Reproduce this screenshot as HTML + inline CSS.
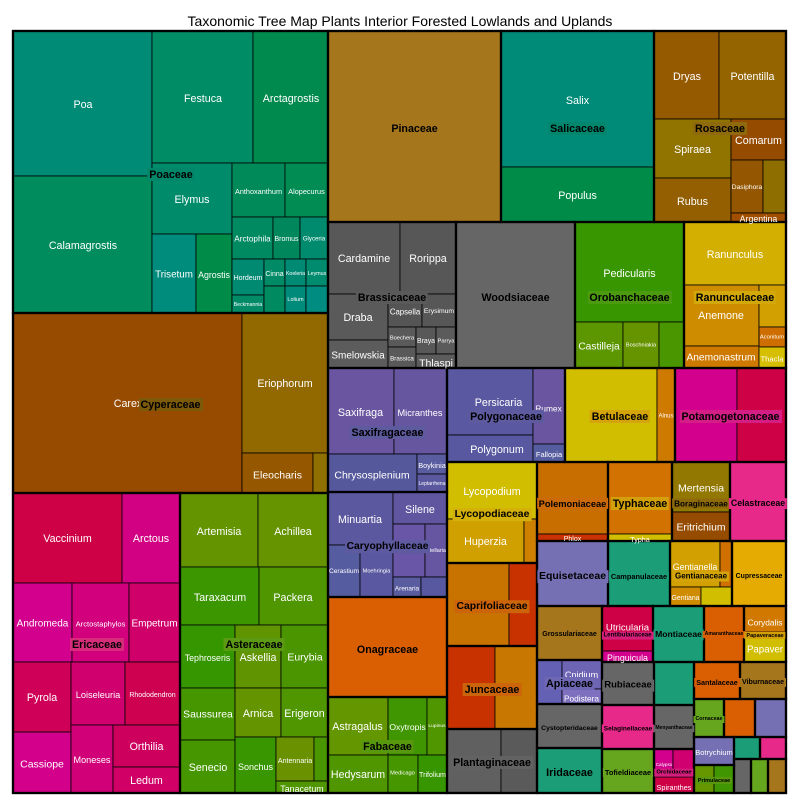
<!DOCTYPE html>
<html><head><meta charset="utf-8"><style>
html,body{margin:0;padding:0;background:#fff;width:800px;height:800px;overflow:hidden}
#c{position:relative;width:800px;height:800px;font-family:"Liberation Sans",Arial,sans-serif}
svg{position:absolute;left:0;top:0}
.g{stroke:#000;stroke-width:1;stroke-opacity:.8}
.o{fill:none;stroke:#000;stroke-width:2.2}
.w,.f{position:absolute;transform:translate(-50%,calc(-50% + 1.5px));white-space:nowrap;line-height:1}
.w{color:#fff;font-size:10.7px}
.f{color:#000;font-weight:bold;font-size:10.7px;line-height:1.12;padding:1px 2px 0}
.t{position:absolute;left:0;top:13.6px;width:800px;text-align:center;font-size:14px;line-height:1;color:#000}
</style></head><body><div id="c">
<div class="t">Taxonomic Tree Map Plants Interior Forested Lowlands and Uplands</div>
<svg width="800" height="800" viewBox="0 0 800 800">
<g class="g">
<rect x="13" y="31" width="139" height="145" fill="#008B76"/>
<rect x="13" y="176" width="139" height="137" fill="#008C5C"/>
<rect x="152" y="31" width="101" height="132" fill="#008C64"/>
<rect x="253" y="31" width="75" height="132" fill="#008A4E"/>
<rect x="152" y="163" width="80" height="71" fill="#008C6A"/>
<rect x="152" y="234" width="44" height="79" fill="#008C7C"/>
<rect x="196" y="234" width="36" height="79" fill="#008C48"/>
<rect x="232" y="163" width="53" height="54" fill="#008A5A"/>
<rect x="285" y="163" width="43" height="54" fill="#008C52"/>
<rect x="232" y="217" width="41" height="42" fill="#008A62"/>
<rect x="273" y="217" width="27" height="42" fill="#00875C"/>
<rect x="300" y="217" width="28" height="42" fill="#008A6E"/>
<rect x="232" y="259" width="32" height="36" fill="#008A72"/>
<rect x="232" y="295" width="32" height="18" fill="#008A66"/>
<rect x="264" y="259" width="21" height="27" fill="#008A66"/>
<rect x="285" y="259" width="21" height="27" fill="#008A74"/>
<rect x="306" y="259" width="22" height="27" fill="#008A6E"/>
<rect x="264" y="286" width="21" height="27" fill="#008A60"/>
<rect x="285" y="286" width="21" height="27" fill="#008A7A"/>
<rect x="306" y="286" width="22" height="27" fill="#008C80"/>

<rect x="13" y="313" width="229" height="180" fill="#964B00"/>
<rect x="242" y="313" width="86" height="140" fill="#926800"/>
<rect x="242" y="453" width="71" height="40" fill="#955800"/>
<rect x="313" y="453" width="15" height="40" fill="#8F7000"/>

<rect x="13" y="493" width="109" height="90" fill="#CE0046"/>
<rect x="122" y="493" width="58" height="90" fill="#D20082"/>
<rect x="13" y="583" width="59" height="79" fill="#D2008C"/>
<rect x="72" y="583" width="57" height="79" fill="#D2007C"/>
<rect x="129" y="583" width="51" height="79" fill="#D0006A"/>
<rect x="13" y="662" width="58" height="70" fill="#CE0058"/>
<rect x="13" y="732" width="58" height="61" fill="#D2008A"/>
<rect x="71" y="662" width="54" height="63" fill="#D0006E"/>
<rect x="125" y="662" width="55" height="63" fill="#CE0050"/>
<rect x="71" y="725" width="42" height="68" fill="#D20078"/>
<rect x="113" y="725" width="67" height="42" fill="#CE005E"/>
<rect x="113" y="767" width="67" height="26" fill="#D00066"/>

<rect x="180" y="493" width="78" height="74" fill="#649400"/>
<rect x="258" y="493" width="70" height="74" fill="#669400"/>
<rect x="180" y="567" width="79" height="58" fill="#3C9600"/>
<rect x="259" y="567" width="69" height="58" fill="#509600"/>
<rect x="180" y="625" width="55" height="63" fill="#359600"/>
<rect x="235" y="625" width="46" height="63" fill="#609400"/>
<rect x="281" y="625" width="47" height="63" fill="#4B9600"/>
<rect x="180" y="688" width="55" height="52" fill="#469600"/>
<rect x="180" y="740" width="55" height="53" fill="#469600"/>
<rect x="235" y="688" width="46" height="49" fill="#649400"/>
<rect x="281" y="688" width="47" height="49" fill="#509600"/>
<rect x="235" y="737" width="41" height="56" fill="#3A9600"/>
<rect x="276" y="737" width="38" height="44" fill="#6A9200"/>
<rect x="314" y="737" width="14" height="44" fill="#4A9600"/>
<rect x="276" y="781" width="52" height="12" fill="#509600"/>

<rect x="328" y="31" width="173" height="191" fill="#A6761D"/>
<rect x="501" y="31" width="153" height="136" fill="#008A78"/>
<rect x="501" y="167" width="153" height="55" fill="#008C48"/>

<rect x="654" y="31" width="65" height="88" fill="#955A00"/>
<rect x="719" y="31" width="67" height="88" fill="#936400"/>
<rect x="654" y="119" width="77" height="59" fill="#917400"/>
<rect x="654" y="178" width="77" height="44" fill="#935F00"/>
<rect x="731" y="119" width="55" height="41" fill="#964C00"/>
<rect x="731" y="160" width="32" height="53" fill="#945600"/>
<rect x="763" y="160" width="23" height="53" fill="#8F6E00"/>
<rect x="731" y="213" width="55" height="9" fill="#A04E00"/>

<rect x="328" y="222" width="72" height="72" fill="#585858"/>
<rect x="400" y="222" width="56" height="72" fill="#575757"/>
<rect x="328" y="294" width="60" height="46" fill="#5A5A5A"/>
<rect x="328" y="340" width="60" height="28" fill="#5C5C5C"/>
<rect x="388" y="294" width="34" height="33" fill="#555555"/>
<rect x="422" y="294" width="34" height="33" fill="#575757"/>
<rect x="388" y="327" width="28" height="20" fill="#5A5A5A"/>
<rect x="388" y="347" width="28" height="21" fill="#595959"/>
<rect x="416" y="327" width="20" height="27" fill="#585858"/>
<rect x="436" y="327" width="20" height="27" fill="#5B5B5B"/>
<rect x="416" y="354" width="40" height="14" fill="#5C5C5C"/>

<rect x="456" y="222" width="119" height="146" fill="#666666"/>

<rect x="575" y="222" width="109" height="100" fill="#389600"/>
<rect x="575" y="322" width="48" height="46" fill="#5C9600"/>
<rect x="623" y="322" width="36" height="46" fill="#669400"/>
<rect x="659" y="322" width="25" height="46" fill="#4A9600"/>

<rect x="684" y="222" width="102" height="63" fill="#D2AF00"/>
<rect x="684" y="285" width="75" height="61" fill="#CE8C00"/>
<rect x="759" y="285" width="27" height="42" fill="#D2A000"/>
<rect x="759" y="327" width="27" height="20" fill="#CE6E00"/>
<rect x="684" y="346" width="75" height="22" fill="#CE7A00"/>
<rect x="759" y="347" width="27" height="21" fill="#D6BE00"/>

<rect x="328" y="368" width="66" height="86" fill="#6A56A0"/>
<rect x="394" y="368" width="53" height="86" fill="#6656A0"/>
<rect x="328" y="454" width="89" height="38" fill="#56589C"/>
<rect x="417" y="454" width="30" height="20" fill="#5A5CA0"/>
<rect x="417" y="474" width="30" height="18" fill="#5C58A0"/>

<rect x="328" y="492" width="65" height="53" fill="#5C58A0"/>
<rect x="393" y="492" width="54" height="32" fill="#6056A0"/>
<rect x="328" y="545" width="32" height="52" fill="#565CA0"/>
<rect x="360" y="545" width="33" height="52" fill="#5A58A0"/>
<rect x="393" y="524" width="32" height="53" fill="#6A56A6"/>
<rect x="425" y="524" width="22" height="53" fill="#6656A2"/>
<rect x="393" y="577" width="28" height="20" fill="#5A5CA0"/>
<rect x="421" y="577" width="26" height="20" fill="#5858A0"/>

<rect x="328" y="597" width="119" height="100" fill="#D95F02"/>

<rect x="328" y="697" width="60" height="58" fill="#649600"/>
<rect x="388" y="697" width="39" height="58" fill="#409600"/>
<rect x="427" y="697" width="20" height="58" fill="#509600"/>
<rect x="328" y="755" width="60" height="38" fill="#509600"/>
<rect x="388" y="755" width="30" height="38" fill="#469600"/>
<rect x="418" y="755" width="29" height="38" fill="#379600"/>

<rect x="447" y="368" width="86" height="67" fill="#5A58A0"/>
<rect x="447" y="435" width="86" height="27" fill="#5858A0"/>
<rect x="533" y="368" width="32" height="76" fill="#6A56A0"/>
<rect x="533" y="444" width="32" height="18" fill="#565CA0"/>

<rect x="447" y="462" width="90" height="57" fill="#D2BE00"/>
<rect x="447" y="519" width="77" height="44" fill="#D0A000"/>
<rect x="524" y="519" width="13" height="44" fill="#CE8000"/>

<rect x="447" y="563" width="62" height="83" fill="#C87200"/>
<rect x="509" y="563" width="28" height="83" fill="#C83200"/>
<rect x="447" y="646" width="48" height="83" fill="#C83200"/>
<rect x="495" y="646" width="42" height="83" fill="#C87800"/>
<rect x="447" y="729" width="54" height="64" fill="#606060"/>
<rect x="501" y="729" width="36" height="64" fill="#5A5A5A"/>

<rect x="565" y="368" width="92" height="94" fill="#D2BE00"/>
<rect x="657" y="368" width="18" height="94" fill="#CE7A00"/>
<rect x="675" y="368" width="62" height="94" fill="#D2008C"/>
<rect x="737" y="368" width="49" height="94" fill="#CE0046"/>

<rect x="537" y="462" width="71" height="72" fill="#C86E00"/>
<rect x="537" y="534" width="71" height="7" fill="#C83200"/>
<rect x="608" y="462" width="64" height="72" fill="#D27200"/>
<rect x="608" y="534" width="64" height="7" fill="#D2BE00"/>
<rect x="672" y="462" width="58" height="50" fill="#927800"/>
<rect x="672" y="512" width="58" height="29" fill="#964C00"/>
<rect x="730" y="462" width="56" height="79" fill="#E7298A"/>

<rect x="537" y="541" width="71" height="65" fill="#7570B3"/>
<rect x="608" y="541" width="62" height="65" fill="#1B9E77"/>
<rect x="670" y="541" width="50" height="46" fill="#D2A000"/>
<rect x="720" y="541" width="12" height="46" fill="#D07000"/>
<rect x="670" y="587" width="31" height="19" fill="#D08C00"/>
<rect x="701" y="587" width="31" height="19" fill="#D2BE00"/>
<rect x="732" y="541" width="54" height="65" fill="#E6AB02"/>

<rect x="537" y="606" width="65" height="54" fill="#A6761D"/>
<rect x="602" y="606" width="51" height="45" fill="#CE0046"/>
<rect x="602" y="651" width="51" height="11" fill="#D2008C"/>
<rect x="653" y="606" width="51" height="56" fill="#1B9E77"/>
<rect x="704" y="606" width="40" height="56" fill="#D95F02"/>
<rect x="744" y="606" width="42" height="26" fill="#D07800"/>
<rect x="744" y="632" width="42" height="30" fill="#D2BE00"/>

<rect x="537" y="660" width="25" height="44" fill="#6460B4"/>
<rect x="562" y="660" width="40" height="29" fill="#6E64B4"/>
<rect x="562" y="689" width="40" height="15" fill="#7E70BE"/>
<rect x="602" y="662" width="52" height="43" fill="#666666"/>
<rect x="654" y="662" width="40" height="43" fill="#1B9E77"/>
<rect x="694" y="662" width="46" height="37" fill="#D95F02"/>
<rect x="740" y="662" width="46" height="37" fill="#A6761D"/>
<rect x="537" y="704" width="65" height="44" fill="#666666"/>
<rect x="602" y="705" width="52" height="44" fill="#E7298A"/>
<rect x="654" y="705" width="40" height="44" fill="#666666"/>
<rect x="694" y="699" width="30" height="38" fill="#66A61E"/>
<rect x="724" y="699" width="31" height="38" fill="#D95F02"/>
<rect x="755" y="699" width="31" height="38" fill="#7570B3"/>
<rect x="694" y="737" width="40" height="28" fill="#7570B3"/>
<rect x="734" y="737" width="26" height="22" fill="#1B9E77"/>
<rect x="760" y="737" width="26" height="22" fill="#E7298A"/>
<rect x="694" y="765" width="20" height="28" fill="#669600"/>
<rect x="714" y="765" width="20" height="28" fill="#409600"/>
<rect x="734" y="759" width="17" height="34" fill="#666666"/>
<rect x="751" y="759" width="17" height="34" fill="#66A61E"/>
<rect x="768" y="759" width="18" height="34" fill="#A6761D"/>
<rect x="537" y="748" width="65" height="45" fill="#1B9E77"/>
<rect x="602" y="749" width="52" height="44" fill="#66A61E"/>
<rect x="654" y="749" width="19" height="28" fill="#D2008C"/>
<rect x="673" y="749" width="21" height="28" fill="#D00070"/>
<rect x="654" y="777" width="40" height="16" fill="#CE0046"/>
</g>
<g class="o">
<rect x="13" y="31" width="315" height="282"/>
<rect x="13" y="313" width="315" height="180"/>
<rect x="13" y="493" width="167" height="300"/>
<rect x="180" y="493" width="148" height="300"/>
<rect x="328" y="31" width="173" height="191"/>
<rect x="501" y="31" width="153" height="191"/>
<rect x="654" y="31" width="132" height="191"/>
<rect x="328" y="222" width="128" height="146"/>
<rect x="456" y="222" width="119" height="146"/>
<rect x="575" y="222" width="109" height="146"/>
<rect x="684" y="222" width="102" height="146"/>
<rect x="328" y="368" width="119" height="124"/>
<rect x="328" y="492" width="119" height="105"/>
<rect x="328" y="597" width="119" height="100"/>
<rect x="328" y="697" width="119" height="96"/>
<rect x="447" y="368" width="118" height="94"/>
<rect x="447" y="462" width="90" height="101"/>
<rect x="447" y="563" width="90" height="83"/>
<rect x="447" y="646" width="90" height="83"/>
<rect x="447" y="729" width="90" height="64"/>
<rect x="565" y="368" width="110" height="94"/>
<rect x="675" y="368" width="111" height="94"/>
<rect x="537" y="462" width="71" height="79"/>
<rect x="608" y="462" width="64" height="79"/>
<rect x="672" y="462" width="58" height="79"/>
<rect x="730" y="462" width="56" height="79"/>
<rect x="537" y="541" width="71" height="65"/>
<rect x="608" y="541" width="62" height="65"/>
<rect x="670" y="541" width="62" height="65"/>
<rect x="732" y="541" width="54" height="65"/>
<rect x="537" y="606" width="65" height="54"/>
<rect x="602" y="606" width="51" height="56"/>
<rect x="653" y="606" width="51" height="56"/>
<rect x="704" y="606" width="40" height="56"/>
<rect x="744" y="606" width="42" height="56"/>
<rect x="537" y="660" width="65" height="44"/>
<rect x="602" y="662" width="52" height="43"/>
<rect x="654" y="662" width="40" height="43"/>
<rect x="694" y="662" width="46" height="37"/>
<rect x="740" y="662" width="46" height="37"/>
<rect x="537" y="704" width="65" height="44"/>
<rect x="602" y="705" width="52" height="44"/>
<rect x="654" y="705" width="40" height="44"/>
<rect x="694" y="699" width="30" height="38"/>
<rect x="724" y="699" width="31" height="38"/>
<rect x="755" y="699" width="31" height="38"/>
<rect x="694" y="737" width="40" height="28"/>
<rect x="734" y="737" width="26" height="22"/>
<rect x="760" y="737" width="26" height="22"/>
<rect x="694" y="765" width="40" height="28"/>
<rect x="734" y="759" width="17" height="34"/>
<rect x="751" y="759" width="17" height="34"/>
<rect x="768" y="759" width="18" height="34"/>
<rect x="537" y="748" width="65" height="45"/>
<rect x="602" y="749" width="52" height="44"/>
<rect x="654" y="749" width="40" height="44"/>
<rect x="13" y="31" width="773" height="762"/>
</g>
</svg>

<div class="w" style="left:83px;top:104px">Poa</div>
<div class="w" style="left:83px;top:245px">Calamagrostis</div>
<div class="w" style="left:203px;top:98px">Festuca</div>
<div class="w" style="left:291px;top:98px">Arctagrostis</div>
<div class="w" style="left:192px;top:199px">Elymus</div>
<div class="w" style="left:174px;top:274px;font-size:9.8px">Trisetum</div>
<div class="w" style="left:214px;top:274px;font-size:8.8px">Agrostis</div>
<div class="w" style="left:258.5px;top:190px;font-size:7.3px">Anthoxanthum</div>
<div class="w" style="left:306.5px;top:190px;font-size:7.3px">Alopecurus</div>
<div class="w" style="left:252.5px;top:238px;font-size:8.2px">Arctophila</div>
<div class="w" style="left:286.5px;top:238px;font-size:7px">Bromus</div>
<div class="w" style="left:314px;top:238px;font-size:6.1px">Glyceria</div>
<div class="w" style="left:248px;top:277px;font-size:7px">Hordeum</div>
<div class="w" style="left:248px;top:304px;font-size:5.2px">Beckmannia</div>
<div class="w" style="left:274.5px;top:273px;font-size:7px">Cinna</div>
<div class="w" style="left:295.5px;top:273px;font-size:5.2px">Koeleria</div>
<div class="w" style="left:317px;top:273px;font-size:5.3px">Leymus</div>
<div class="w" style="left:295.5px;top:299px;font-size:5.5px">Lolium</div>
<div class="w" style="left:128px;top:403px">Carex</div>
<div class="w" style="left:285px;top:383px">Eriophorum</div>
<div class="w" style="left:277.5px;top:474px;font-size:10.5px">Eleocharis</div>
<div class="w" style="left:67.5px;top:538px">Vaccinium</div>
<div class="w" style="left:151px;top:538px">Arctous</div>
<div class="w" style="left:42.5px;top:623px;font-size:10px">Andromeda</div>
<div class="w" style="left:100.5px;top:623px;font-size:7.6px">Arctostaphylos</div>
<div class="w" style="left:154.5px;top:623px;font-size:10px">Empetrum</div>
<div class="w" style="left:42px;top:697px">Pyrola</div>
<div class="w" style="left:98px;top:694px;font-size:9.2px">Loiseleuria</div>
<div class="w" style="left:152.5px;top:694px;font-size:7px">Rhododendron</div>
<div class="w" style="left:42px;top:763px;font-size:10.5px">Cassiope</div>
<div class="w" style="left:92px;top:759px;font-size:9.1px">Moneses</div>
<div class="w" style="left:146.5px;top:746px">Orthilia</div>
<div class="w" style="left:146.5px;top:780px">Ledum</div>
<div class="w" style="left:219px;top:531px">Artemisia</div>
<div class="w" style="left:293px;top:531px">Achillea</div>
<div class="w" style="left:220px;top:597px">Taraxacum</div>
<div class="w" style="left:293px;top:597px">Packera</div>
<div class="w" style="left:207.5px;top:657px;font-size:8.8px">Tephroseris</div>
<div class="w" style="left:258px;top:657px">Askellia</div>
<div class="w" style="left:305px;top:657px;font-size:10.4px">Eurybia</div>
<div class="w" style="left:208px;top:714px;font-size:10.4px">Saussurea</div>
<div class="w" style="left:258px;top:713px">Arnica</div>
<div class="w" style="left:304.5px;top:713px">Erigeron</div>
<div class="w" style="left:208px;top:767px">Senecio</div>
<div class="w" style="left:255.5px;top:766px;font-size:9px">Sonchus</div>
<div class="w" style="left:295px;top:760px;font-size:7.1px">Antennaria</div>
<div class="w" style="left:302px;top:788px;font-size:8.9px">Tanacetum</div>
<div class="w" style="left:577.5px;top:100px">Salix</div>
<div class="w" style="left:577.5px;top:195px">Populus</div>
<div class="w" style="left:687px;top:76px">Dryas</div>
<div class="w" style="left:752.5px;top:76px">Potentilla</div>
<div class="w" style="left:692.5px;top:149px">Spiraea</div>
<div class="w" style="left:692.5px;top:201px">Rubus</div>
<div class="w" style="left:758.5px;top:140px">Comarum</div>
<div class="w" style="left:747px;top:187px;font-size:6.7px">Dasiphora</div>
<div class="w" style="left:758.5px;top:218px;font-size:8.8px">Argentina</div>
<div class="w" style="left:364px;top:258px">Cardamine</div>
<div class="w" style="left:428px;top:258px">Rorippa</div>
<div class="w" style="left:358px;top:317px">Draba</div>
<div class="w" style="left:405px;top:311px;font-size:7.8px">Capsella</div>
<div class="w" style="left:439px;top:311px;font-size:6.8px">Erysimum</div>
<div class="w" style="left:358px;top:355px;font-size:10px">Smelowskia</div>
<div class="w" style="left:402px;top:338px;font-size:5.7px">Boechera</div>
<div class="w" style="left:402px;top:358px;font-size:6.2px">Brassica</div>
<div class="w" style="left:426px;top:341px;font-size:6.9px">Braya</div>
<div class="w" style="left:446px;top:341px;font-size:5.8px">Parrya</div>
<div class="w" style="left:436px;top:362px;font-size:10.5px">Thlaspi</div>
<div class="w" style="left:629.5px;top:273px">Pedicularis</div>
<div class="w" style="left:599px;top:346px;font-size:10.2px">Castilleja</div>
<div class="w" style="left:641px;top:345px;font-size:5.6px">Boschniakia</div>
<div class="w" style="left:735px;top:254px">Ranunculus</div>
<div class="w" style="left:721px;top:315px">Anemone</div>
<div class="w" style="left:772px;top:337px;font-size:5.8px">Aconitum</div>
<div class="w" style="left:721px;top:357px;font-size:10.2px">Anemonastrum</div>
<div class="w" style="left:772px;top:358px;font-size:7.7px">Thacla</div>
<div class="w" style="left:360.5px;top:412px">Saxifraga</div>
<div class="w" style="left:420px;top:412px;font-size:9.2px">Micranthes</div>
<div class="w" style="left:372px;top:474px;font-size:10.5px">Chrysosplenium</div>
<div class="w" style="left:432px;top:464px;font-size:7.3px">Boykinia</div>
<div class="w" style="left:432px;top:483px;font-size:5px">Leptarrhena</div>
<div class="w" style="left:498.5px;top:402px">Persicaria</div>
<div class="w" style="left:548.5px;top:407px;font-size:8.4px">Rumex</div>
<div class="w" style="left:497px;top:449px">Polygonum</div>
<div class="w" style="left:549px;top:453px;font-size:7.5px">Fallopia</div>
<div class="w" style="left:360px;top:519px">Minuartia</div>
<div class="w" style="left:420px;top:509px">Silene</div>
<div class="w" style="left:344px;top:571px;font-size:6.6px">Cerastium</div>
<div class="w" style="left:376.5px;top:571px;font-size:5.6px">Moehringia</div>
<div class="w" style="left:436px;top:550px;font-size:5.5px">Stellaria</div>
<div class="w" style="left:407px;top:588px;font-size:6.4px">Arenaria</div>
<div class="w" style="left:492px;top:491px">Lycopodium</div>
<div class="w" style="left:485.5px;top:541px">Huperzia</div>
<div class="w" style="left:357.5px;top:726px">Astragalus</div>
<div class="w" style="left:407.5px;top:726px;font-size:8.6px">Oxytropis</div>
<div class="w" style="left:437px;top:726px;font-size:4.9px">Lupinus</div>
<div class="w" style="left:358px;top:774px;font-size:10.6px">Hedysarum</div>
<div class="w" style="left:402.5px;top:773px;font-size:5.7px">Medicago</div>
<div class="w" style="left:432.5px;top:774px;font-size:7.1px">Trifolium</div>
<div class="w" style="left:666px;top:415px;font-size:6px">Alnus</div>
<div class="w" style="left:572.5px;top:538px;font-size:7px">Phlox</div>
<div class="w" style="left:640px;top:538px;font-size:7.2px">Typha</div>
<div class="w" style="left:701px;top:487px;font-size:10.5px">Mertensia</div>
<div class="w" style="left:701px;top:527px;font-size:10.4px">Eritrichium</div>
<div class="w" style="left:695px;top:566px;font-size:8.8px">Gentianella</div>
<div class="w" style="left:685.5px;top:598px;font-size:6.9px">Gentiana</div>
<div class="w" style="left:627.5px;top:627px;font-size:9.6px">Utricularia</div>
<div class="w" style="left:627.5px;top:657px;font-size:8.9px">Pinguicula</div>
<div class="w" style="left:765px;top:621px;font-size:8.4px">Corydalis</div>
<div class="w" style="left:765px;top:649px;font-size:9.7px">Papaver</div>
<div class="w" style="left:581.5px;top:674px;font-size:9.1px">Cnidium</div>
<div class="w" style="left:581.5px;top:697px;font-size:8.3px">Podistera</div>
<div class="w" style="left:714px;top:751px;font-size:7.5px">Botrychium</div>
<div class="w" style="left:664px;top:764px;font-size:4.6px">Calypso</div>
<div class="w" style="left:674px;top:786px;font-size:7.3px">Spiranthes</div>

<div class="f" style="left:171px;top:173px;background:#00876A">Poaceae</div>
<div class="f" style="left:170.5px;top:403px;background:#7D5A0A">Cyperaceae</div>
<div class="f" style="left:97px;top:643px;background:#D62C7A">Ericaceae</div>
<div class="f" style="left:254px;top:643px;background:#5C9A14">Asteraceae</div>
<div class="f" style="left:414.5px;top:127px;background:#A6761D">Pinaceae</div>
<div class="f" style="left:577.5px;top:127px;background:#00866C">Salicaceae</div>
<div class="f" style="left:720px;top:127px;background:#8E6A0C">Rosaceae</div>
<div class="f" style="left:392px;top:296px;background:#5A5A5A">Brassicaceae</div>
<div class="f" style="left:515.5px;top:296px;background:#666666">Woodsiaceae</div>
<div class="f" style="left:629.5px;top:296px;background:#4C9A10">Orobanchaceae</div>
<div class="f" style="left:735px;top:296px;background:#D2A80A">Ranunculaceae</div>
<div class="f" style="left:387.5px;top:431px;background:#5E5A9E">Saxifragaceae</div>
<div class="f" style="left:506px;top:415px;background:#5E5AA0">Polygonaceae</div>
<div class="f" style="left:620px;top:415px;background:#D4A40A">Betulaceae</div>
<div class="f" style="left:730.5px;top:415px;background:#D41E86">Potamogetonaceae</div>
<div class="f" style="left:387.5px;top:545px;font-size:10.3px;background:#5E5AA0">Caryophyllaceae</div>
<div class="f" style="left:492px;top:513px;font-size:10.4px;background:#D4B00A">Lycopodiaceae</div>
<div class="f" style="left:572.5px;top:502px;font-size:9.3px;background:#CC6A0A">Polemoniaceae</div>
<div class="f" style="left:640px;top:502px;background:#D4A00A">Typhaceae</div>
<div class="f" style="left:701px;top:502px;font-size:8.2px;background:#8E6A0A">Boraginaceae</div>
<div class="f" style="left:758px;top:502px;font-size:8.8px;background:#E7298A">Celastraceae</div>
<div class="f" style="left:572.5px;top:575px;font-size:10.5px;background:#7570B3">Equisetaceae</div>
<div class="f" style="left:639px;top:575px;font-size:7.4px;background:#1B9E77">Campanulaceae</div>
<div class="f" style="left:701px;top:575px;font-size:8px;background:#D4A40A">Gentianaceae</div>
<div class="f" style="left:759px;top:575px;font-size:6.9px;background:#E6AB02">Cupressaceae</div>
<div class="f" style="left:387.5px;top:648px;background:#D95F02">Onagraceae</div>
<div class="f" style="left:387.5px;top:745px;background:#58980E">Fabaceae</div>
<div class="f" style="left:492px;top:605px;font-size:10.4px;background:#CC640A">Caprifoliaceae</div>
<div class="f" style="left:492px;top:688px;background:#CC640A">Juncaceae</div>
<div class="f" style="left:492px;top:761px;background:#626262">Plantaginaceae</div>
<div class="f" style="left:569.5px;top:633px;font-size:7px;background:#A6761D">Grossulariaceae</div>
<div class="f" style="left:627.5px;top:634px;font-size:6.1px;background:#D4207A">Lentibulariaceae</div>
<div class="f" style="left:678.5px;top:633px;font-size:8.6px;background:#1B9E77">Montiaceae</div>
<div class="f" style="left:724px;top:633px;font-size:5.2px;background:#D95F02">Amaranthaceae</div>
<div class="f" style="left:765px;top:634px;font-size:5.6px;background:#D4A00A">Papaveraceae</div>
<div class="f" style="left:569.5px;top:682px;background:#6E68B4">Apiaceae</div>
<div class="f" style="left:628px;top:684px;font-size:9.5px;background:#666666">Rubiaceae</div>
<div class="f" style="left:717px;top:681px;font-size:7.2px;background:#D95F02">Santalaceae</div>
<div class="f" style="left:763px;top:681px;font-size:7.1px;background:#A6761D">Viburnaceae</div>
<div class="f" style="left:569.5px;top:727px;font-size:6.8px;background:#666666">Cystopteridaceae</div>
<div class="f" style="left:628px;top:727px;font-size:6.5px;background:#E7298A">Selaginellaceae</div>
<div class="f" style="left:674px;top:727px;font-size:5px;background:#666666">Menyanthaceae</div>
<div class="f" style="left:709px;top:718px;font-size:5.3px;background:#66A61E">Cornaceae</div>
<div class="f" style="left:569.5px;top:771px;font-size:10.8px;background:#1B9E77">Iridaceae</div>
<div class="f" style="left:628px;top:771px;font-size:7.4px;background:#66A61E">Tofieldiaceae</div>
<div class="f" style="left:674px;top:771px;font-size:5.9px;background:#D41E7E">Orchidaceae</div>
<div class="f" style="left:714px;top:779px;font-size:5.5px;background:#58980E">Primulaceae</div>
</div></body></html>
